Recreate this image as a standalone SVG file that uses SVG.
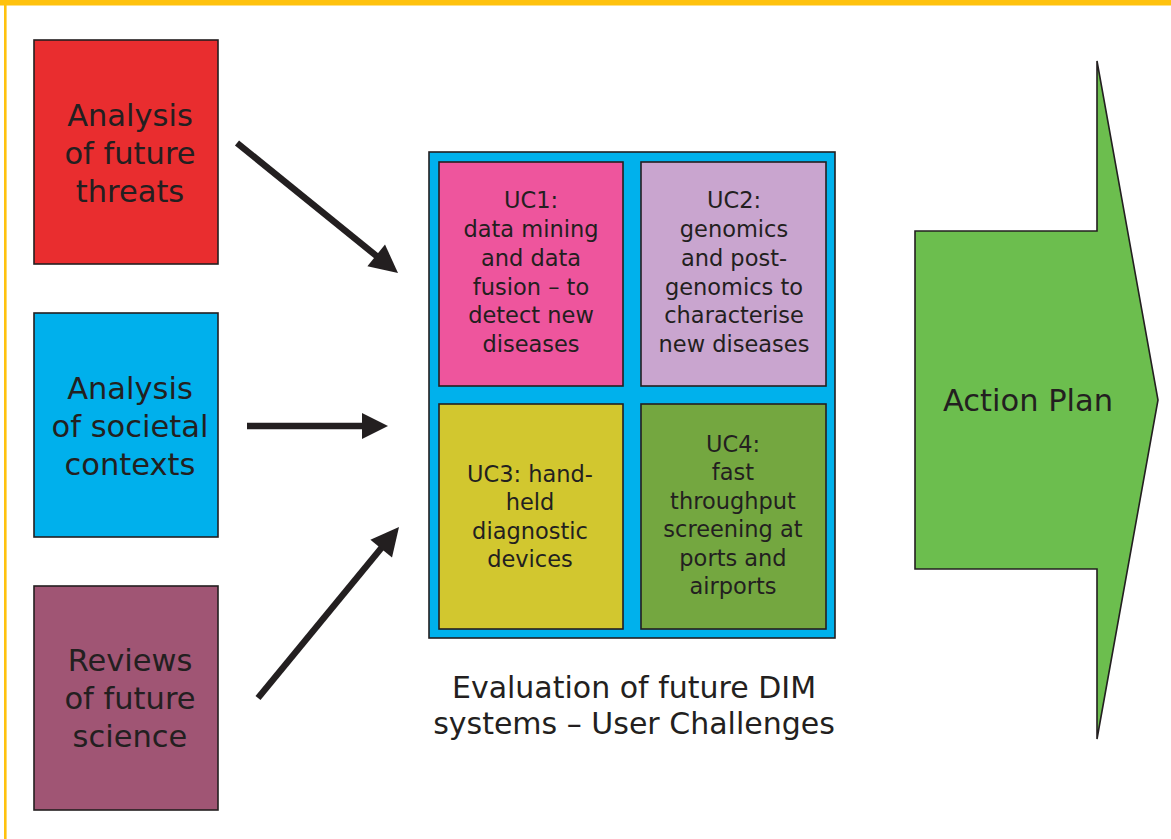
<svg xmlns="http://www.w3.org/2000/svg" width="1171" height="839" viewBox="0 0 1171 839">
<style>
.box{stroke:#231f20;stroke-width:1.6}
.big{font-family:"DejaVu Sans",sans-serif;font-size:30.5px;fill:#231f20;text-anchor:middle}
.uc{font-family:"DejaVu Sans",sans-serif;font-size:22.5px;fill:#231f20;text-anchor:middle}
.arr{fill:#231f20}
.shaft{stroke:#231f20;stroke-width:6.5;fill:none}
</style>
<rect width="1171" height="839" fill="#ffffff"/>
<g id="frame">
<rect x="0" y="0" width="1171" height="5.5" fill="#ffc20e"/>
<rect x="4" y="0" width="2.6" height="839" fill="#ffc20e"/>
</g>
<g id="threats">
<rect class="box" x="34" y="40" width="184" height="224" fill="#e92d2f"/>
<text class="big" x="130" y="126">Analysis</text>
<text class="big" x="130" y="164">of future</text>
<text class="big" x="130" y="202">threats</text>
</g>
<g id="societal">
<rect class="box" x="34" y="313" width="184" height="224" fill="#00b0ec"/>
<text class="big" x="130" y="399">Analysis</text>
<text class="big" x="130" y="437">of societal</text>
<text class="big" x="130" y="475">contexts</text>
</g>
<g id="science">
<rect class="box" x="34" y="586" width="184" height="224" fill="#a05574"/>
<text class="big" x="130" y="671">Reviews</text>
<text class="big" x="130" y="709">of future</text>
<text class="big" x="130" y="747">science</text>
</g>
<g id="connectors">
<line class="shaft" x1="237" y1="143" x2="379" y2="258"/>
<polygon class="arr" points="398,273 367.4,266.3 385,244.5"/>
<line class="shaft" x1="247" y1="426" x2="364" y2="426"/>
<polygon class="arr" points="388,426 362,413 362,439"/>
<line class="shaft" x1="258" y1="698" x2="383" y2="546"/>
<polygon class="arr" points="399,527 392,557.5 370.4,539.7"/>
</g>
<g id="evaluation">
<rect class="box" x="429" y="152" width="406" height="486" fill="#00b1ec"/>
<text class="big" x="634" y="698" style="font-size:30px">Evaluation of future DIM</text>
<text class="big" x="634" y="734" style="font-size:30px">systems – User Challenges</text>
</g>
<g id="uc1">
<rect class="box" x="439" y="162" width="184" height="224" fill="#ee559d"/>
<text class="uc" x="531" y="208">UC1:</text>
<text class="uc" x="531" y="237">data mining</text>
<text class="uc" x="531" y="266">and data</text>
<text class="uc" x="531" y="295">fusion – to</text>
<text class="uc" x="531" y="323">detect new</text>
<text class="uc" x="531" y="352">diseases</text>
</g>
<g id="uc2">
<rect class="box" x="641" y="162" width="185" height="224" fill="#c9a5cf"/>
<text class="uc" x="734" y="208">UC2:</text>
<text class="uc" x="734" y="237">genomics</text>
<text class="uc" x="734" y="266">and post-</text>
<text class="uc" x="734" y="295">genomics to</text>
<text class="uc" x="734" y="323">characterise</text>
<text class="uc" x="734" y="352">new diseases</text>
</g>
<g id="uc3">
<rect class="box" x="439" y="404" width="184" height="225" fill="#d2c72f"/>
<text class="uc" x="530" y="482">UC3: hand-</text>
<text class="uc" x="530" y="510">held</text>
<text class="uc" x="530" y="539">diagnostic</text>
<text class="uc" x="530" y="567">devices</text>
</g>
<g id="uc4">
<rect class="box" x="641" y="404" width="185" height="225" fill="#74a740"/>
<text class="uc" x="733" y="452">UC4:</text>
<text class="uc" x="733" y="480">fast</text>
<text class="uc" x="733" y="509">throughput</text>
<text class="uc" x="733" y="537">screening at</text>
<text class="uc" x="733" y="566">ports and</text>
<text class="uc" x="733" y="594">airports</text>
</g>
<g id="action">
<polygon class="box" points="915,231 1097,231 1097,61 1158,400 1097,739 1097,569 915,569" fill="#6cbe4e"/>
<text class="big" x="1028" y="411">Action Plan</text>
</g>
</svg>
